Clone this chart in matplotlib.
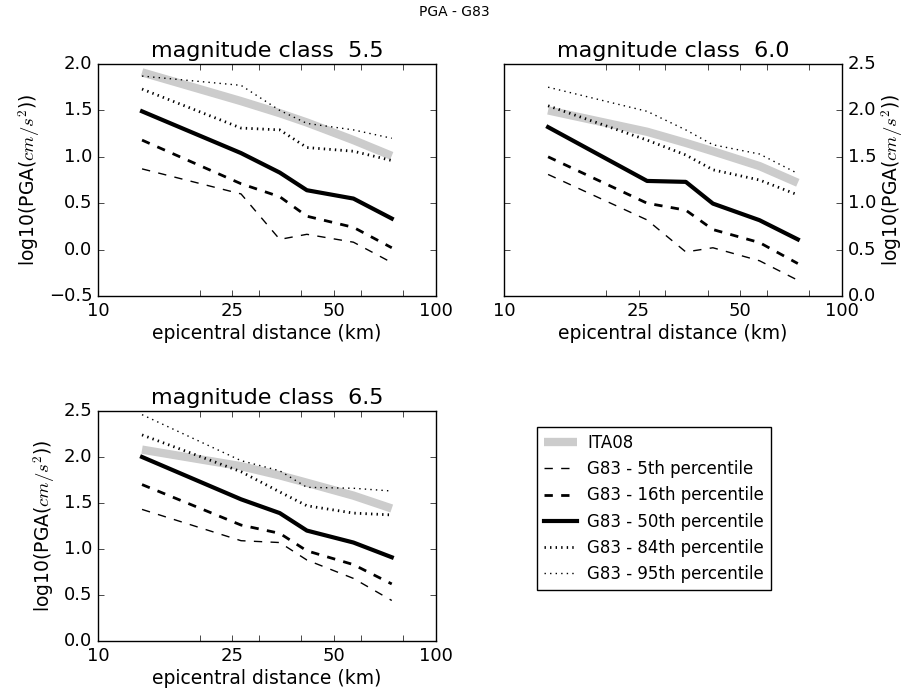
#!/usr/bin/env python3
"""
PGA - G83: percentiles of log10(PGA) vs epicentral distance per magnitude class,
compared with the ITA08 prediction.
"""

import matplotlib
matplotlib.use('Agg')
import matplotlib.pyplot as plt

plt.style.use('classic')
plt.rcParams['figure.facecolor'] = 'white'
plt.rcParams['savefig.facecolor'] = 'white'
plt.rcParams['font.family'] = 'DejaVu Sans'
plt.rcParams['mathtext.fontset'] = 'cm'
plt.rcParams['xtick.labelsize'] = 13
plt.rcParams['ytick.labelsize'] = 13
plt.rcParams['axes.labelsize'] = 13.5

# epicentral distance (km) of each bin
distance = [13.5, 26.5, 34.5, 41.5, 57, 74]

magnitudes = ['5.5', '6.0', '6.5']

# log10 PGA (cm/s^2), one list per magnitude class
ita08 = [
    [1.91, 1.60, 1.47, 1.37, 1.18, 1.01],
    [2.00, 1.77, 1.65, 1.56, 1.40, 1.22],
    [2.08, 1.90, 1.80, 1.72, 1.58, 1.44],
]
p05 = [
    [0.87, 0.60, 0.11, 0.165, 0.08, -0.14],
    [1.31, 0.82, 0.475, 0.52, 0.38, 0.17],
    [1.43, 1.09, 1.07, 0.88, 0.68, 0.44],
]
p16 = [
    [1.18, 0.71, 0.57, 0.36, 0.24, 0.02],
    [1.50, 1.00, 0.925, 0.716, 0.576, 0.35],
    [1.70, 1.26, 1.17, 0.98, 0.83, 0.62],
]
p50 = [
    [1.49, 1.04, 0.83, 0.64, 0.55, 0.335],
    [1.82, 1.24, 1.23, 0.996, 0.817, 0.61],
    [2.00, 1.54, 1.39, 1.20, 1.07, 0.91],
]
p84 = [
    [1.73, 1.31, 1.29, 1.10, 1.06, 0.96],
    [2.05, 1.68, 1.52, 1.36, 1.25, 1.09],
    [2.24, 1.84, 1.62, 1.47, 1.39, 1.37],
]
p95 = [
    [1.87, 1.77, 1.50, 1.36, 1.29, 1.20],
    [2.25, 1.99, 1.79, 1.63, 1.53, 1.32],
    [2.46, 1.96, 1.85, 1.67, 1.66, 1.63],
]

ylims = [(-0.5, 2.0), (0.0, 2.5), (0.0, 2.5)]
xticks = [10, 20, 25, 30, 40, 50, 60, 80, 100]
xticklabels = ['10', '', '25', '', '', '50', '', '', '100']

fig = plt.figure(figsize=(9.09, 6.98))
axes = [
    fig.add_axes([0.1078, 0.5759, 0.3718, 0.3324]),
    fig.add_axes([0.5545, 0.5759, 0.3718, 0.3324]),
    fig.add_axes([0.1078, 0.0817, 0.3718, 0.3295]),
]

for i, ax in enumerate(axes):
    ax.plot(distance, ita08[i], color='0.8', lw=6, solid_capstyle='butt', label='ITA08')
    ax.plot(distance, p05[i], 'k--', lw=1, label='G83 - 5th percentile')
    ax.plot(distance, p16[i], 'k--', lw=2, label='G83 - 16th percentile')
    ax.plot(distance, p50[i], 'k-', lw=3, label='G83 - 50th percentile')
    ax.plot(distance, p84[i], 'k:', lw=2, label='G83 - 84th percentile')
    ax.plot(distance, p95[i], 'k:', lw=1, label='G83 - 95th percentile')

    ax.set_xscale('log')
    ax.set_xlim(10, 100)
    ax.set_xticks(xticks)
    ax.set_xticklabels(xticklabels)
    ax.minorticks_off()
    ax.set_ylim(*ylims[i])
    ax.set_yticks([ylims[i][0] + 0.5 * k for k in range(6)])
    ax.set_xlabel('epicentral distance (km)', labelpad=3)
    ax.set_ylabel(r'log10(PGA($cm/s^2$))')
    ax.set_title('magnitude class  ' + magnitudes[i], fontsize=16)

# middle panel has its y axis on the right
axes[1].yaxis.tick_right()
axes[1].yaxis.set_ticks_position('both')
axes[1].yaxis.set_label_position('right')
axes[1].tick_params(axis='y', labelleft=False, labelright=True)
axes[1].yaxis.labelpad = 2

handles, labels = axes[0].get_legend_handles_labels()
fig.legend(handles, labels, loc='upper left', bbox_to_anchor=(537 / 909, 1 - 427 / 698),
           borderaxespad=0, fontsize=12, frameon=True, numpoints=1,
           handlelength=2.0, handletextpad=0.6, labelspacing=0.5)

fig.suptitle('PGA - G83', fontsize=10, y=0.993)

plt.savefig('out.png', dpi=100)
plt.close()
